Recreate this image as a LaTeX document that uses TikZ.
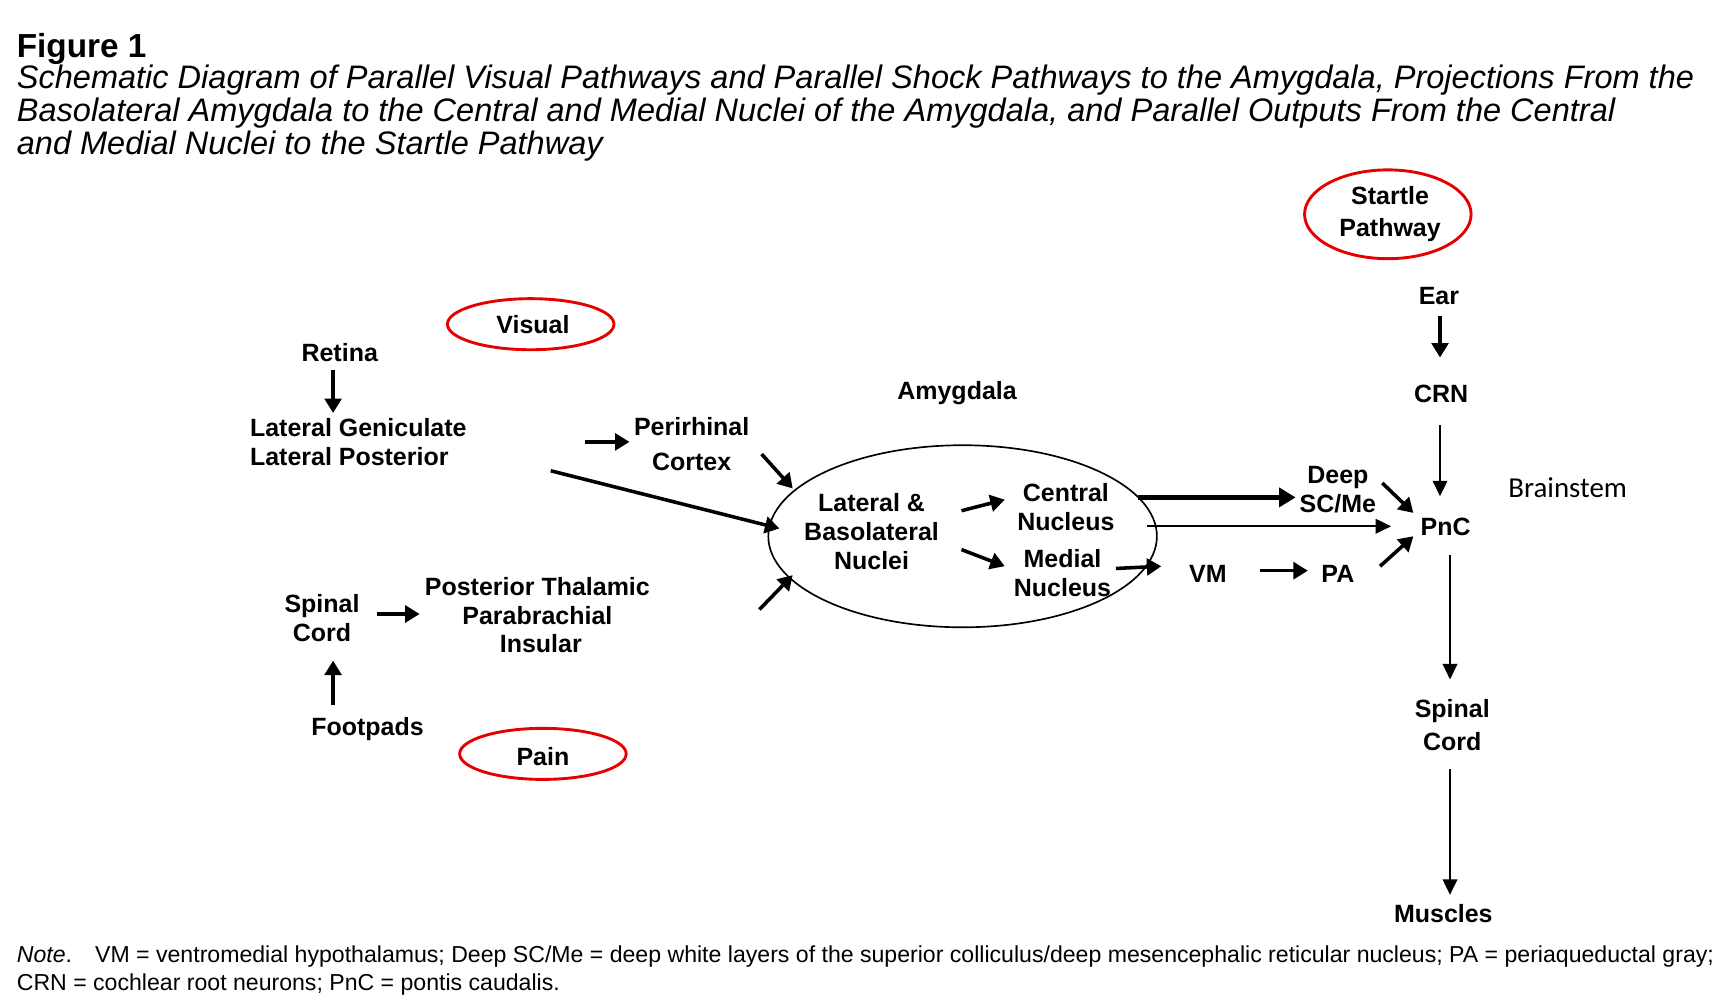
\documentclass[tikz,border=0pt]{standalone}
\usepackage{fontspec}
\setmainfont{Liberation Sans}
\newfontfamily\calib{Carlito}
\usetikzlibrary{arrows.meta}
\begin{document}
\begin{tikzpicture}[x=1pt,y=-1pt,
  lab/.style={font=\fontsize{22.5}{26}\selectfont\bfseries,inner sep=0pt,align=center},
  red/.style={draw={rgb,255:red,230;green,0;blue,0},line width=2.6pt},
  arr/.style={line width=3.2pt,-{Triangle[length=13pt,width=15pt]}},
  tarr/.style={line width=2.2pt,-{Triangle[length=14pt,width=13pt]}}]
\useasboundingbox (0,0) rectangle (1560,903);
\node[anchor=base west,inner sep=0pt,font=\fontsize{30}{30}\selectfont\bfseries] (fig) at (15,52) {Figure 1};
\node[anchor=north west,inner sep=0pt,align=left,font=\fontsize{29.3}{30}\selectfont\itshape] (title) at (15,58) {Schematic Diagram of Parallel Visual Pathways and Parallel Shock Pathways to the Amygdala, Projections From the\\Basolateral Amygdala to the Central and Medial Nuclei of the Amygdala, and Parallel Outputs From the Central\\and Medial Nuclei to the Startle Pathway};
\node[anchor=north west,inner sep=0pt,align=left,font=\fontsize{20.8}{25}\selectfont] (note) at (15,852) {\textit{Note}.\quad VM = ventromedial hypothalamus; Deep SC/Me = deep white layers of the superior colliculus/deep mesencephalic reticular nucleus; PA = periaqueductal gray;\\CRN = cochlear root neurons; PnC = pontis caudalis.};
% red ellipses
\draw[red] (1250,193) ellipse [x radius=75,y radius=40];
\draw[red] (478,292) ellipse [x radius=75,y radius=23];
\draw[red] (489,679) ellipse [x radius=75,y radius=23];
\node[lab] (startle) at (1252,193) {Startle\\[3pt]Pathway};
\node[lab] (visual) at (480,292) {Visual};
\node[lab] (pain) at (489,681) {Pain};
% amygdala ellipse
\draw[line width=1.5pt] (867,483) ellipse [x radius=175,y radius=82];
\node[lab] (amy) at (862,354) {Amygdala};
\node[lab] (retina) at (306,318) {Retina};
\node[lab,align=left,anchor=west] (lgn) at (225,398) {Lateral Geniculate\\Lateral Posterior};
\node[lab] (peri) at (623,400) {Perirhinal\\[5pt]Cortex};
\node[lab] (lb) at (785,479) {Lateral \&\\Basolateral\\Nuclei};
\node[lab] (cn) at (960,457) {Central\\Nucleus};
\node[lab] (mn) at (957,516) {Medial\\Nucleus};
\node[lab] (vm) at (1088,517) {VM};
\node[lab] (pa) at (1205,517) {PA};
\node[lab] (deep) at (1205,441) {Deep\\SC/Me};
\node[lab] (ear) at (1296,267) {Ear};
\node[lab] (crn) at (1298,355) {CRN};
\node[lab] (pnc) at (1302,475) {PnC};
\node[inner sep=0pt,font=\calib\fontsize{26}{30}\selectfont] (brain) at (1412,439) {Brainstem};
\node[lab] (sc2) at (1308,653) {Spinal\\[3pt]Cord};
\node[lab] (mus) at (1300,823) {Muscles};
\node[lab] (sc1) at (290,557) {Spinal\\Cord};
\node[lab] (ptp) at (484,554) {Posterior Thalamic\\Parabrachial\\\ Insular};
\node[lab] (foot) at (331,657) {Footpads};
% arrows
\draw[arr] (300,333) -- (300,372);
\draw[arr] (527,398) -- (567,398);
\draw[arr] (496,424) -- (702,476);
\draw[arr] (686,409) -- (714,440);
\draw[arr] (684,549) -- (714,518);
\draw[arr] (866,460) -- (905,450);
\draw[arr] (866,495) -- (905,510);
\draw[arr] (1005,512) -- (1046,510);
\draw[arr] (1135,514) -- (1178,514);
\draw[arr] (1243,510) -- (1273,483);
\draw[line width=4pt,-{Triangle[length=15pt,width=17pt]}] (1025,448) -- (1167,448);
\draw[tarr] (1033,474) -- (1253,474);
\draw[arr] (1245,435) -- (1273,462);
\draw[arr] (1297,285) -- (1297,322);
\draw[tarr] (1297,383) -- (1297,447);
\draw[tarr] (1306,500) -- (1306,612);
\draw[tarr] (1306,693) -- (1306,806);
\draw[arr] (340,553) -- (378,553);
\draw[arr] (300,635) -- (300,595);
\end{tikzpicture}
\end{document}
